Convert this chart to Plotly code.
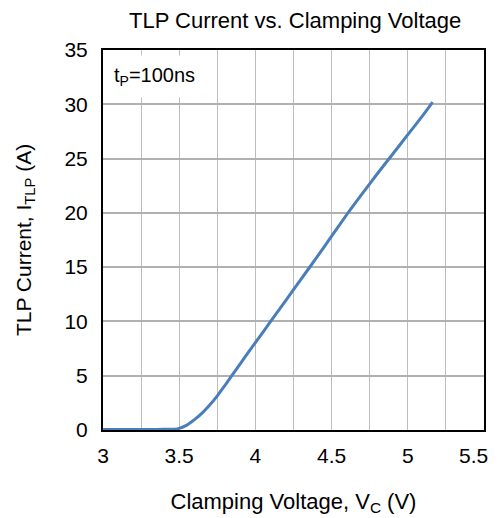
import plotly.graph_objects as go

voltage = [3.0, 3.1, 3.2, 3.3, 3.4, 3.47, 3.5, 3.55, 3.6, 3.65, 3.7, 3.75, 3.8, 3.85, 3.9,
           4.0, 4.1, 4.2, 4.3, 4.4, 4.5, 4.6, 4.7, 4.8, 4.9, 5.0, 5.1, 5.163]
current = [0.05, 0.05, 0.05, 0.05, 0.06, 0.08, 0.15, 0.45, 0.95, 1.55, 2.3, 3.15, 4.1, 5.1, 6.1,
           8.05, 10.0, 11.95, 13.9, 15.85, 17.85, 19.85, 21.75, 23.6, 25.4, 27.2, 29.0, 30.2]

x_ticks = [3, 3.5, 4, 4.5, 5, 5.5]
x_tick_labels = ["3", "3.5", "4", "4.5", "5", "5.5"]
y_ticks = [0, 5, 10, 15, 20, 25, 30, 35]

font = "Liberation Sans, Arial, sans-serif"

fig = go.Figure()
fig.add_trace(go.Scatter(x=voltage, y=current, mode="lines", line_shape="spline",
                         line=dict(color="#4a7ebb", width=3, smoothing=0.6), showlegend=False))

# last x tick label is drawn as an annotation nudged left so it stays inside the page
axis_text = x_tick_labels[:-1] + [""]

fig.update_layout(
    width=490, height=510,
    margin=dict(l=95, r=14, t=42, b=88),
    paper_bgcolor="white", plot_bgcolor="white",
    font=dict(family=font, color="black", size=21),
    title=dict(text="TLP Current vs. Clamping Voltage", x=0.586, xanchor="center",
               y=0.976, yanchor="middle", font=dict(size=22)),
    xaxis=dict(range=[3, 5.5], tickvals=x_ticks, ticktext=axis_text,
               ticklabeloverflow="allow",
               showgrid=True, gridcolor="#bdbdbd", gridwidth=1,
               minor=dict(dtick=0.25, tick0=3, showgrid=True, gridcolor="#bdbdbd", gridwidth=1),
               showline=True, mirror=True, linecolor="black", linewidth=2,
               ticks="outside", ticklen=6, tickcolor="rgba(0,0,0,0)",
               zeroline=False, automargin=False,
               title=dict(text="Clamping Voltage, V<sub>C</sub> (V)", standoff=27,
                          font=dict(size=22))),
    yaxis=dict(range=[0, 35], tickvals=y_ticks,
               showgrid=True, gridcolor="#b0b0b0", gridwidth=1.5,
               showline=True, mirror=True, linecolor="black", linewidth=2,
               ticks="outside", ticklen=9, tickcolor="rgba(0,0,0,0)",
               zeroline=False, automargin=False,
               title=dict(text="TLP Current, I<sub>TLP</sub> (A)", standoff=27,
                          font=dict(size=21))),
    annotations=[
        dict(text="t<sub>P</sub>=100ns", xref="x", yref="y", x=3.01, y=32.6,
             xanchor="left", yanchor="middle", showarrow=False,
             bgcolor="white", borderpad=8, font=dict(size=20)),
        dict(text=x_tick_labels[-1], xref="x", yref="y", x=x_ticks[-1], y=0,
             xanchor="center", yanchor="middle", xshift=-11, yshift=-25,
             showarrow=False, font=dict(size=21)),
    ],
)

fig.write_html("out.html")
